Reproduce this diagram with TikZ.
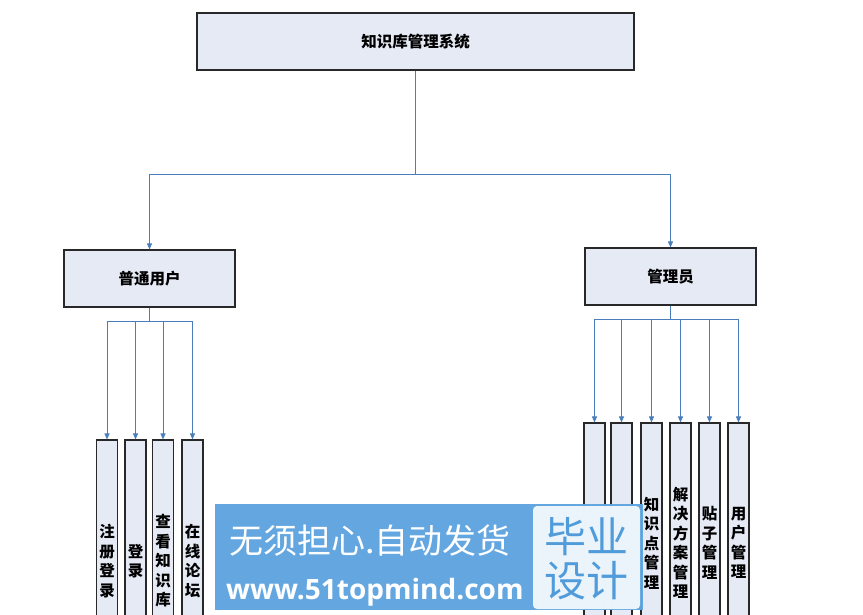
\documentclass[tikz,border=0pt]{standalone}
\usepackage{fontspec}
\newfontfamily\cjk{Noto Sans CJK SC}
\newfontfamily\wmlat{Open Sans}
\usetikzlibrary{arrows.meta}
\definecolor{boxfill}{RGB}{230,234,245}
\definecolor{boxline}{RGB}{40,40,40}
\definecolor{conn}{RGB}{74,126,187}
\definecolor{wmblue}{RGB}{95,165,224}
\definecolor{wmtext}{RGB}{80,155,218}
\tikzset{
  box/.style={draw=boxline, line width=1.1pt, fill=boxfill, inner sep=0pt,
    font=\cjk\bfseries\fontsize{15.5}{19.5}\selectfont, text=black},
  leaf/.style={box, minimum width=21pt, align=center},
  link/.style={draw=conn, line width=0.9pt},
  arr/.style={link, -{Triangle[length=6pt,width=5pt]}}
}
\begin{document}
\begin{tikzpicture}[x=1pt,y=-1pt]
\useasboundingbox (0,0) rectangle (863,614);
\clip (0,0) rectangle (863,614);
\fill[white] (0,0) rectangle (863,614);
% top level
\node[box, minimum width=437pt, minimum height=57pt] (root) at (415.5,41.5) {知识库管理系统};
\node[box, minimum width=171pt, minimum height=57pt] (user) at (149.5,278.5) {普通用户};
\node[box, minimum width=171pt, minimum height=57pt] (admin) at (670.5,276.5) {管理员};
\draw[arr] (root.south) -- ++(0,104) -| (user.north);
\draw[arr] (root.south) -- ++(0,104) -| (admin.north);
% user leaves
\node[leaf, minimum height=242pt] (u1) at (107,561) {注\\册\\登\\录};
\node[leaf, minimum height=242pt] (u2) at (135.5,561) {登\\录};
\node[leaf, minimum height=242pt] (u3) at (163,561) {查\\看\\知\\识\\库};
\node[leaf, minimum height=242pt] (u4) at (192.5,561) {在\\线\\论\\坛};
\foreach \n in {u1,u2,u3,u4}{
  \draw[arr] (user.south) -- ++(0,14) -| (\n.north);
}
% admin leaves
\node[leaf, minimum height=240pt] (a1) at (594.5,543) {};
\node[leaf, minimum height=240pt] (a2) at (621.5,543) {};
\node[leaf, minimum height=240pt] (a3) at (651.5,543) {知\\识\\点\\管\\理};
\node[leaf, minimum height=240pt] (a4) at (680.5,543) {解\\决\\方\\案\\管\\理};
\node[leaf, minimum height=240pt] (a5) at (709.5,543) {贴\\子\\管\\理};
\node[leaf, minimum height=240pt] (a6) at (738.5,543) {用\\户\\管\\理};
\foreach \n in {a1,a2,a3,a4,a5,a6}{
  \draw[arr] (admin.south) -- ++(0,14) -| (\n.north);
}
% watermark banner
\fill[wmblue, opacity=0.97] (215,504) rectangle (643,610);
\fill[white, opacity=0.88, rounded corners=4pt] (533,506) rectangle (640,609);
\node[text=white, font=\cjk\fontsize{34}{34}\selectfont, anchor=west, inner sep=0pt] (wm1) at (229,541) {无须担心.自动发货};
\node[text=white, font=\wmlat\bfseries\fontsize{28}{28}\selectfont, anchor=west, inner sep=0pt] (wm2) at (226,592) {www.51topmind.com};
\node[text=wmtext, font=\cjk\fontsize{42}{42}\selectfont, inner sep=0pt] (wm3) at (586,537) {毕业};
\node[text=wmtext, font=\cjk\fontsize{42}{42}\selectfont, inner sep=0pt] (wm4) at (586,581) {设计};
\end{tikzpicture}
\end{document}
